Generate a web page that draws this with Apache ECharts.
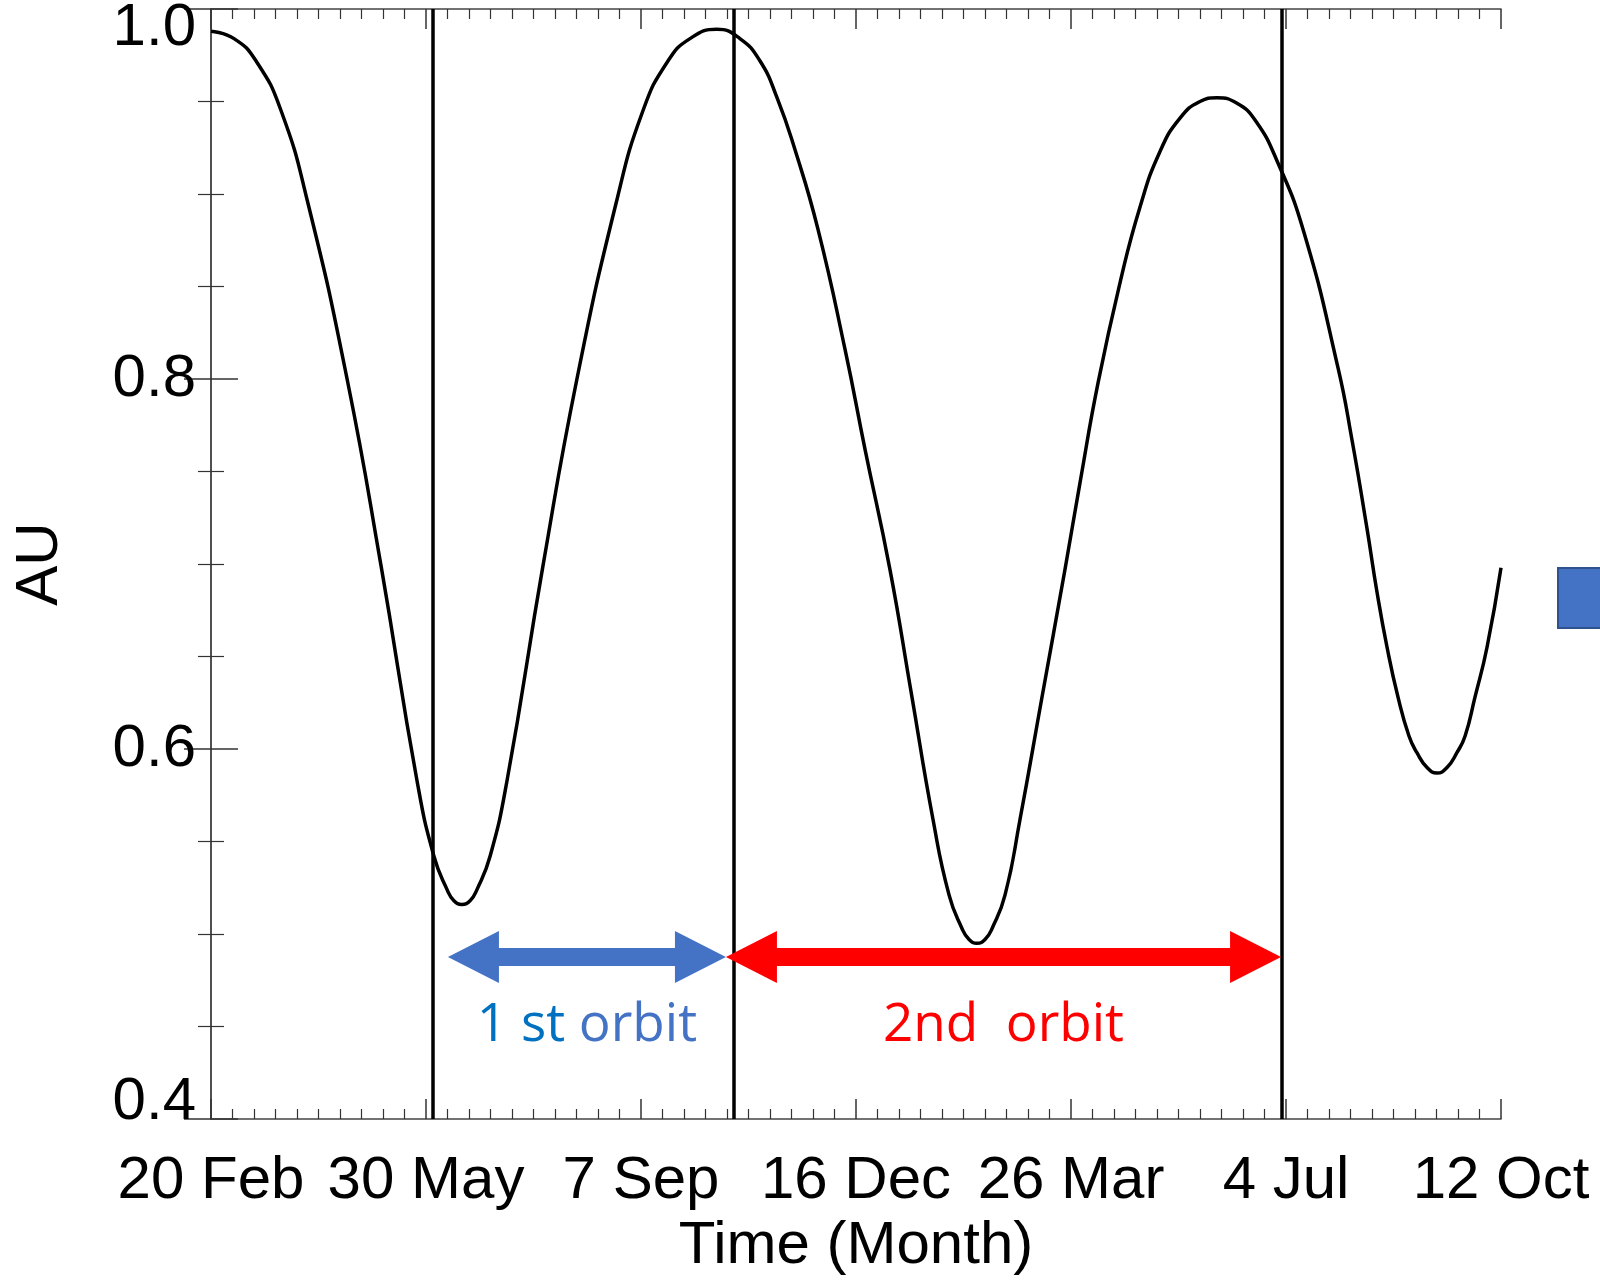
<!DOCTYPE html>
<html><head><meta charset="utf-8">
<script src="https://cdn.jsdelivr.net/npm/echarts@6/dist/echarts.min.js"></script>
<style>html,body{margin:0;padding:0;background:#fff}#chart{width:1600px;height:1282px}</style>
</head><body><div id="chart"></div>
<script>
// ---- data ----
const xTickDays = [0, 100, 200, 300, 400, 500, 600];
const xTickLabels = ['20 Feb', '30 May', '7 Sep', '16 Dec', '26 Mar', '4 Jul', '12 Oct'];
const yTickValues = [0.4, 0.6, 0.8, 1.0];
const yTickLabels = ['0.4', '0.6', '0.8', '1.0'];

// days since 20 Feb
const days = [
  0, 10.7, 20.9, 32.6, 45.1, 63.3, 79.1, 95.8, 103.7, 109.8, 113.0, 116.7,
  120.5, 123.7, 129.8, 137.7, 154.4, 170.2, 188.4, 200.9, 212.6, 222.8, 235.3,
  246.0, 255.3, 263.3, 271.6, 282.3, 294.9, 304.2, 315.8, 325.6, 335.8, 343.3, 349.3, 352.6, 356.3,
  360.0, 363.3, 369.3, 376.3, 386.5, 397.2, 404.2, 412.6, 422.8, 432.1, 441.4, 450.7, 460.0, 467.9,
  477.2, 485.6, 495.8, 508.4, 524.2, 530.7, 537.7, 542.3, 547.0, 552.1, 557.2, 560.9, 565.6, 570.2,
  574.9, 579.5, 583.3, 587.9, 593.5, 600];
// heliocentric distance (AU)
const distanceAU = [
  0.988, 0.984, 0.972, 0.945, 0.895, 0.800, 0.699, 0.583, 0.542, 0.524, 0.518, 0.516,
  0.518, 0.524, 0.542, 0.583, 0.699, 0.800, 0.895, 0.945, 0.972, 0.984, 0.989,
  0.984, 0.972, 0.952, 0.924, 0.881, 0.816, 0.762, 0.697, 0.631, 0.562, 0.521, 0.503, 0.497, 0.495,
  0.497, 0.503, 0.521, 0.562, 0.628, 0.697, 0.744, 0.798, 0.852, 0.893, 0.923, 0.941, 0.950, 0.952,
  0.949, 0.940, 0.918, 0.879, 0.806, 0.767, 0.719, 0.685, 0.655, 0.628, 0.607, 0.598, 0.590, 0.587,
  0.590, 0.598, 0.607, 0.628, 0.655, 0.698];

const orbitBoundaryDays = [103, 243, 498];
const firstOrbitDays = [110.2, 239.5];   // arrow tip to tip
const secondOrbitDays = [239.5, 497.7];
const arrowAU = 0.4876;
const firstOrbitText = ['1 st ', 'orbit'];
const secondOrbitText = '2nd  orbit';

// ---- chart ----
const FONT = '"Liberation Sans", Arial, Helvetica, sans-serif';
const ANNOT_FONT = '"Open Sans", "Noto Sans", sans-serif';
const frameColor = '#444';
const GRID = { left: 211, right: 99, top: 9, bottom: 163 };
const X_MIN = 0, X_MAX = 600;
const HEAD_LEN = 51, HEAD_W = 52, SHAFT_W = 18;
// markLine symbols are centred on the end points: pull the ends in by half a head
const pxPerDay = (1600 - GRID.left - GRID.right) / (X_MAX - X_MIN);
const headInsetDays = (HEAD_LEN / 2) / pxPerDay;

function xLabel(v) {
  const i = xTickDays.indexOf(Math.round(v));
  return i >= 0 ? xTickLabels[i] : '';
}
function yLabel(v) {
  const i = Math.round((v - yTickValues[0]) / 0.2);
  const t = yTickLabels[i];
  if (i === yTickLabels.length - 1) return '{top|' + t + '}';
  if (i === 0) return '{bot|' + t + '}';
  return t;
}

const common = {
  type: 'value',
  splitLine: { show: false },
  axisLine: { show: true, lineStyle: { color: frameColor, width: 1.5 } }
};

function arrow(range, color, label) {
  return [
    { coord: [range[0] + headInsetDays, arrowAU],
      lineStyle: { color: color, width: SHAFT_W, type: 'solid', cap: 'butt' },
      itemStyle: { color: color },
      label: label },
    { coord: [range[1] - headInsetDays, arrowAU] }
  ];
}

const chart = echarts.init(document.getElementById('chart'), null, { renderer: 'canvas' });
chart.setOption({
  backgroundColor: '#ffffff',
  animation: false,
  grid: Object.assign({ containLabel: false, outerBoundsMode: 'none' }, GRID),
  xAxis: [
    Object.assign({}, common, {
      position: 'bottom', min: X_MIN, max: X_MAX, interval: 100,
      axisTick: { inside: true, length: 20, lineStyle: { color: '#333', width: 1.5 } },
      minorTick: { show: true, splitNumber: 10, length: 10, lineStyle: { color: '#333', width: 1.2 } },
      axisLabel: { formatter: xLabel, fontSize: 60, fontFamily: FONT, color: '#000', margin: 32 },
      name: 'Time (Month)', nameLocation: 'middle', nameGap: 97,
      nameTextStyle: { fontSize: 60, fontFamily: FONT, color: '#000' }
    }),
    Object.assign({}, common, {
      position: 'top', min: X_MIN, max: X_MAX, interval: 100,
      axisTick: { inside: true, length: 20, lineStyle: { color: '#333', width: 1.5 } },
      minorTick: { show: true, splitNumber: 10, length: 10, lineStyle: { color: '#333', width: 1.2 } },
      axisLabel: { show: false }
    })
  ],
  yAxis: [
    Object.assign({}, common, {
      position: 'left', min: 0.4, max: 1.0, interval: 0.2,
      axisTick: { inside: true, length: 27, lineStyle: { color: '#333', width: 1.5 } },
      minorTick: { show: true, splitNumber: 4, length: 13, lineStyle: { color: '#333', width: 1.2 } },
      axisLabel: {
        formatter: yLabel, fontSize: 60, fontFamily: FONT, color: '#000', margin: 15,
        rich: {
          top: { fontSize: 60, fontFamily: FONT, color: '#000', padding: [38, 0, 0, 0] },
          bot: { fontSize: 60, fontFamily: FONT, color: '#000', padding: [0, 0, 34, 0] }
        }
      },
      name: 'AU', nameLocation: 'middle', nameGap: 141, nameRotate: 90,
      nameTextStyle: { fontSize: 60, fontFamily: FONT, color: '#000' }
    }),
    Object.assign({}, common, {
      position: 'right', min: 0.4, max: 1.0, interval: 0.2,
      axisTick: { inside: true, length: 27, lineStyle: { color: '#333', width: 1.5 } },
      minorTick: { show: true, splitNumber: 4, length: 13, lineStyle: { color: '#333', width: 1.2 } },
      axisLabel: { show: false }
    })
  ],
  series: [
    {
      type: 'line', name: 'distance', xAxisIndex: 0, yAxisIndex: 0,
      data: days.map((d, i) => [d, distanceAU[i]]),
      showSymbol: false, smooth: 0.5,
      lineStyle: { color: '#000', width: 3.5 }, silent: true, z: 3
    },
    {
      type: 'line', name: 'boundaries', xAxisIndex: 0, yAxisIndex: 0, data: [],
      markLine: {
        silent: true, symbol: ['none', 'none'], animation: false,
        label: { show: false },
        lineStyle: { color: '#000', width: 3.5, type: 'solid' },
        data: orbitBoundaryDays.map(d => ({ xAxis: d }))
      }
    },
    {
      type: 'line', name: 'orbits', xAxisIndex: 0, yAxisIndex: 0, data: [],
      markLine: {
        silent: true, animation: false,
        symbol: ['triangle', 'triangle'], symbolSize: [HEAD_W, HEAD_LEN],
        data: [
          arrow(firstOrbitDays, '#4472C4', {
            show: true, position: 'insideMiddleBottom', distance: 42,
            formatter: '{d|' + firstOrbitText[0] + '}{l|' + firstOrbitText[1] + '}',
            rich: {
              d: { fontSize: 53, fontFamily: ANNOT_FONT, color: '#0070C0' },
              l: { fontSize: 53, fontFamily: ANNOT_FONT, color: '#4472C4' }
            }
          }),
          arrow(secondOrbitDays, '#FF0000', {
            show: true, position: 'insideMiddleBottom', distance: 42,
            formatter: secondOrbitText, fontSize: 53, fontFamily: ANNOT_FONT, color: '#FF0000'
          })
        ]
      }
    }
  ],
  graphic: [
    { type: 'rect', shape: { x: 1558, y: 568, width: 50, height: 60 },
      style: { fill: '#4472C4', stroke: '#2F528F', lineWidth: 2 }, silent: true }
  ]
});
</script>
</body></html>
